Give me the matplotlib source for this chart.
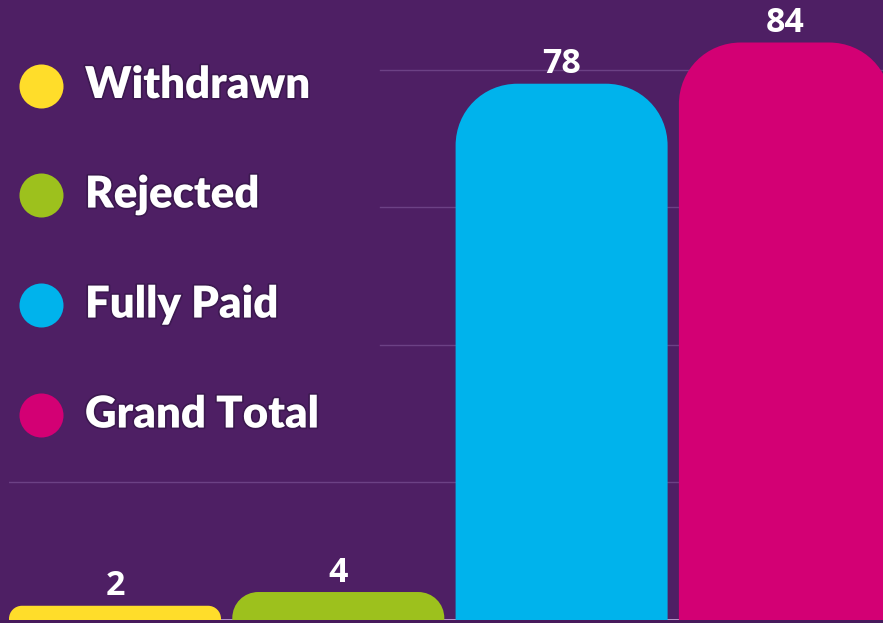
import matplotlib
matplotlib.use("Agg")
import matplotlib.pyplot as plt
from matplotlib.path import Path
from matplotlib.patches import PathPatch, Rectangle
import matplotlib.patheffects as pe

categories = ["Withdrawn", "Rejected", "Fully Paid", "Grand Total"]
values = [2, 4, 78, 84]
colors = ["#FFDD2A", "#9DC11D", "#00B3EC", "#D30074"]
grid_values = [20, 40, 60, 80]

BG = "#4E1F64"
W, H = 883, 623
fig = plt.figure(figsize=(W / 100, H / 100), dpi=100, facecolor=BG)
fig.add_artist(Rectangle((0, 0), 1, 3.5 / H, transform=fig.transFigure,
                         facecolor="#471A5C", edgecolor="none", zorder=0))

ax = fig.add_axes([9 / W, 3.5 / H, 1 - 9 / W, 1 - 3.5 / H])
ax.set_facecolor(BG)
pitch_px = 223.3
unit_px = 6.869
width = 212 / pitch_px
ax.set_xlim(-width / 2, -width / 2 + (W - 9) / pitch_px)
ax.set_ylim(0, (H - 3.5) / unit_px)
for s in ax.spines.values():
    s.set_visible(False)
ax.set_xticks([])
ax.set_yticks([])

# gridlines (legend area hides left part of upper ones)
xmin_frac_upper = (380 - 9) / (W - 9)
for g in grid_values:
    ax.axhline(g, xmin=0 if g == 20 else xmin_frac_upper, color="#6C4185",
               lw=1.0, zorder=1)
ax.axhline(0, color="#B797C9", lw=1.4, zorder=1)

x = list(range(len(categories)))
bars = ax.bar(x, values, width=width, color=colors, zorder=2)

fig.canvas.draw()
sx = ax.transData.transform((1, 0))[0] - ax.transData.transform((0, 0))[0]
sy = ax.transData.transform((0, 1))[1] - ax.transData.transform((0, 0))[1]
K = 0.56
for b, c in zip(bars, colors):
    b.set_visible(False)
    x0, y0 = b.get_x(), b.get_y()
    w, h = b.get_width(), b.get_height()
    r_px = min(62, h * sy * 0.95)
    rx, ry = r_px / sx, r_px / sy
    top = y0 + h
    verts = [
        (x0, y0 - 5),
        (x0, top - ry),
        (x0, top - ry + K * ry), (x0 + rx - K * rx, top), (x0 + rx, top),
        (x0 + w - rx, top),
        (x0 + w - rx + K * rx, top), (x0 + w, top - ry + K * ry), (x0 + w, top - ry),
        (x0 + w, y0 - 5),
        (x0, y0 - 5),
    ]
    codes = [Path.MOVETO, Path.LINETO,
             Path.CURVE4, Path.CURVE4, Path.CURVE4,
             Path.LINETO,
             Path.CURVE4, Path.CURVE4, Path.CURVE4,
             Path.LINETO, Path.CLOSEPOLY]
    ax.add_patch(PathPatch(Path(verts, codes), facecolor=c, edgecolor="none", zorder=2))

for xi, v in zip(x, values):
    ax.annotate(str(v), (xi, v), xytext=(0, 7.5), textcoords="offset points",
                ha="center", va="baseline", color="white", fontsize=24.5,
                fontweight="bold", family="Open Sans", zorder=3)

# legend
centers_y = [85.5, 195, 305, 415]
for cat, col, cy in zip(categories, colors, centers_y):
    yf = 1 - cy / H
    fig.add_artist(plt.Line2D([41 / W], [yf], marker="o", markersize=31.7,
                              markerfacecolor=col, markeredgecolor="none",
                              linestyle="none", transform=fig.transFigure))
    fig.text(85 / W, 1 - (cy + 12.5) / H, cat, ha="left", va="baseline",
             color="white", fontsize=31.5, fontweight="heavy", family="Lato",
             path_effects=[pe.withStroke(linewidth=2.5, foreground="#2E1440", alpha=0.55)])

fig.savefig("out.png", dpi=100, facecolor=BG)
